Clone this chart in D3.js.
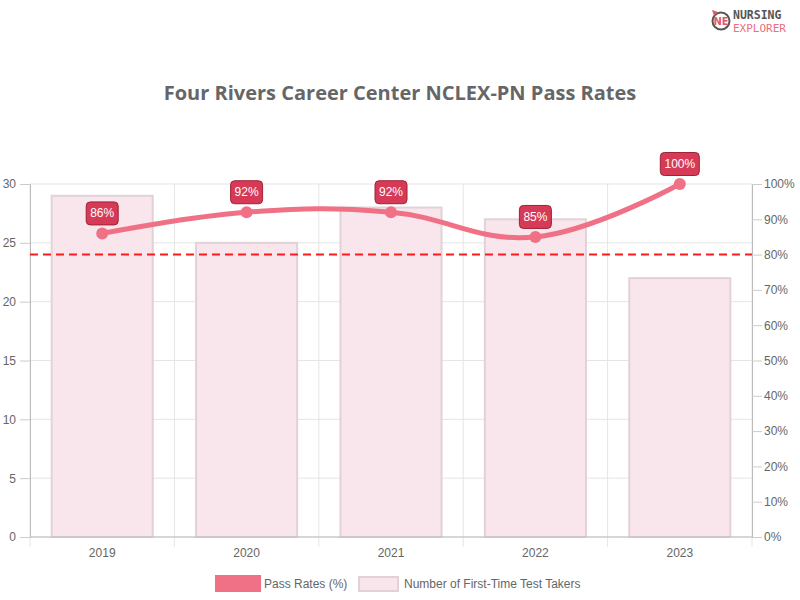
<!DOCTYPE html>
<html>
<head>
<meta charset="utf-8">
<script src="https://cdn.jsdelivr.net/npm/d3@7"></script>
<style>
  body { margin: 0; background: #fff; }
  svg { display: block; }
</style>
</head>
<body>
<div id="chart"></div>
<script>
// chart data
var years = ["2019", "2020", "2021", "2022", "2023"];
var passRates = [86, 92, 92, 85, 100];
var takers = [29, 25, 28, 27, 22];
var leftTicks = [0, 5, 10, 15, 20, 25, 30];
var rightTicks = [0, 10, 20, 30, 40, 50, 60, 70, 80, 90, 100];
var benchmark = 80;
var title = "Four Rivers Career Center NCLEX-PN Pass Rates";
var legendLabels = ["Pass Rates (%)", "Number of First-Time Test Takers"];

var W = 800, H = 600;
var margin = {top: 184, right: 48, bottom: 63, left: 30};
var width = W - margin.left - margin.right,
    height = H - margin.top - margin.bottom;

var font = "'Liberation Sans', Arial, sans-serif";
var grey = "#666";

var root = d3.select("#chart").append("svg")
    .attr("width", W)
    .attr("height", H);

// logo
var logo = root.append("g").attr("transform", "translate(721,21)");
logo.append("circle").attr("r", 8.5).attr("fill", "none")
    .attr("stroke", "#555").attr("stroke-width", 2);
logo.append("text").attr("y", 4).attr("text-anchor", "middle")
    .style("font", "bold 10px 'DejaVu Sans', sans-serif").attr("fill", "#e05a6e").text("NE");
logo.append("path").attr("d", "M-9,-11 L-3,-9 L-7,-5 Z").attr("fill", "#e05a6e");
root.append("text").attr("x", 733).attr("y", 19)
    .style("font", "bold 11.5px 'DejaVu Sans Mono', monospace").attr("fill", "#555").text("NURSING");
root.append("text").attr("x", 733).attr("y", 32)
    .style("font", "11px 'DejaVu Sans Mono', monospace").attr("fill", "#e8707f").text("EXPLORER");

// title
root.append("text")
    .attr("x", W / 2).attr("y", 100)
    .attr("text-anchor", "middle")
    .style("font", "bold 20px 'Open Sans', sans-serif")
    .attr("fill", grey)
    .text(title);

var svg = root.append("g")
    .attr("transform", "translate(" + margin.left + "," + margin.top + ")");

var x = d3.scaleBand().domain(years).range([0, width]);
var yL = d3.scaleLinear().domain([0, 30]).range([height, 0]);
var yR = d3.scaleLinear().domain([0, 100]).range([height, 0]);

// grid
svg.append("g").selectAll("line")
  .data(leftTicks)
  .enter().append("line")
    .attr("x1", 0).attr("x2", width)
    .attr("y1", function (d) { return yL(d); })
    .attr("y2", function (d) { return yL(d); })
    .attr("stroke", "#e5e5e5");
var bounds = years.map(function (d) { return x(d); }).concat([width]);
svg.append("g").selectAll("line")
  .data(bounds)
  .enter().append("line")
    .attr("x1", function (d) { return d; })
    .attr("x2", function (d) { return d; })
    .attr("y1", 0).attr("y2", height + 10)
    .attr("stroke", "#e5e5e5");

// bars
var bw = x.bandwidth() * 0.7;
svg.append("g").selectAll("rect")
  .data(takers)
  .enter().append("rect")
    .attr("x", function (d, i) { return x(years[i]) + (x.bandwidth() - bw) / 2; })
    .attr("y", function (d) { return yL(d); })
    .attr("width", bw)
    .attr("height", function (d) { return height - yL(d); })
    .attr("fill", "#f8e6ec")
    .attr("stroke", "#e2d2d8")
    .attr("stroke-width", 2);

// axes
var axL = svg.append("g")
    .call(d3.axisLeft(yL).tickValues(leftTicks).tickSize(10).tickPadding(4));
var axR = svg.append("g")
    .attr("transform", "translate(" + width + ",0)")
    .call(d3.axisRight(yR).tickValues(rightTicks).tickSize(10).tickPadding(2)
      .tickFormat(function (d) { return d + "%"; }));
var axB = svg.append("g")
    .attr("transform", "translate(0," + height + ")")
    .call(d3.axisBottom(x).tickSize(0).tickPadding(11));
[axL, axR, axB].forEach(function (a) {
  a.select(".domain").attr("stroke", "#bbb");
  a.selectAll(".tick line").attr("stroke", "#ccc");
  a.selectAll("text").style("font", "12px " + font).attr("fill", grey);
});
axB.select(".domain").attr("d", "M0,0H" + width);

// benchmark
svg.append("line")
    .attr("x1", 0).attr("x2", width)
    .attr("y1", yR(benchmark)).attr("y2", yR(benchmark))
    .attr("stroke", "#ff1a1a")
    .attr("stroke-width", 2)
    .attr("stroke-dasharray", "8,5");

// pass rate line
var line = d3.line()
    .x(function (d, i) { return x(years[i]) + x.bandwidth() / 2; })
    .y(function (d) { return yR(d); })
    .curve(d3.curveCardinal.tension(-0.2));
svg.append("path")
    .datum(passRates)
    .attr("d", line)
    .attr("fill", "none")
    .attr("stroke", "#f07086")
    .attr("stroke-width", 5)
    .attr("stroke-linecap", "round");
svg.append("g").selectAll("circle")
  .data(passRates)
  .enter().append("circle")
    .attr("cx", function (d, i) { return x(years[i]) + x.bandwidth() / 2; })
    .attr("cy", function (d) { return yR(d); })
    .attr("r", 6)
    .attr("fill", "#f07086");

// value labels
var lab = svg.append("g").selectAll("g")
  .data(passRates)
  .enter().append("g")
    .attr("transform", function (d, i) {
      return "translate(" + (x(years[i]) + x.bandwidth() / 2) + "," + (yR(d) - 20) + ")";
    });
lab.append("rect")
    .attr("x", function (d) { return d >= 100 ? -19.5 : -16; })
    .attr("y", -11.5)
    .attr("width", function (d) { return d >= 100 ? 39 : 32; })
    .attr("height", 23)
    .attr("rx", 4)
    .attr("fill", "#d63a56")
    .attr("stroke", "#9e2238")
    .attr("stroke-width", 1);
lab.append("text")
    .attr("y", 4)
    .attr("text-anchor", "middle")
    .style("font", "12px " + font)
    .attr("fill", "#fff")
    .text(function (d) { return d + "%"; });

// legend
var lg = root.append("g");
lg.append("rect").attr("x", 215).attr("y", 575).attr("width", 46).attr("height", 17)
    .attr("fill", "#f07086");
lg.append("text").attr("x", 264).attr("y", 588)
    .style("font", "12px " + font).attr("fill", grey).text(legendLabels[0]);
lg.append("rect").attr("x", 359).attr("y", 577).attr("width", 39).attr("height", 14)
    .attr("fill", "#f8e6ec").attr("stroke", "#e2d2d8").attr("stroke-width", 2);
lg.append("text").attr("x", 404).attr("y", 588)
    .style("font", "12px " + font).attr("fill", grey).text(legendLabels[1]);
</script>
</body>
</html>
